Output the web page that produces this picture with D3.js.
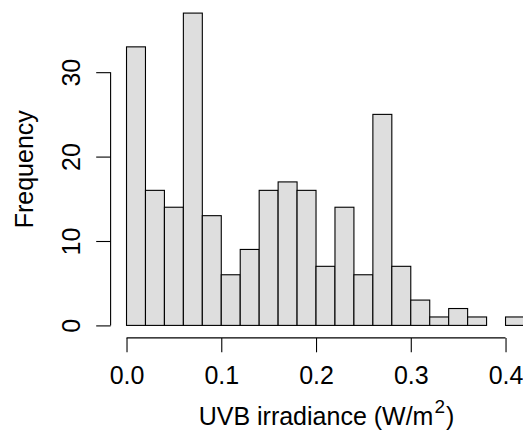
<!DOCTYPE html>
<html><head><meta charset="utf-8">
<script src="https://cdn.jsdelivr.net/npm/d3@7"></script>
<style>body{margin:0;background:#fff}svg{display:block}text{font-family:"Liberation Sans",Arial,sans-serif;fill:#000}</style>
</head><body>
<script>
const breaks = [0,0.02,0.04,0.06,0.08,0.10,0.12,0.14,0.16,0.18,0.20,0.22,0.24,0.26,0.28,0.30,0.32,0.34,0.36,0.38,0.40,0.42];
const counts = [33,16,14,37,13,6,9,16,17,16,7,14,6,25,7,3,1,2,1,0,1];
const xTicks = [0,0.1,0.2,0.3,0.4];
const yTicks = [0,10,20,30];

const W=523,H=430,FS=25;
const svg=d3.select("body").append("svg").attr("width",W).attr("height",H);
const x=d3.scaleLinear().domain([-0.0168,0.4368]).range([110.6,540.4]);
const y=d3.scaleLinear().domain([-1.48,38.48]).range([337.9,0.6]);

const bins=counts.map((c,i)=>({x0:breaks[i],x1:breaks[i+1],c}));
svg.append("g").selectAll("rect").data(bins.filter(d=>d.c>0)).join("rect")
  .attr("x",d=>x(d.x0)).attr("width",d=>x(d.x1)-x(d.x0))
  .attr("y",d=>y(d.c)).attr("height",d=>y(0)-y(d.c))
  .attr("fill","#DEDEDE").attr("stroke","#000").attr("stroke-width",1.1);

// x axis
const gx=svg.append("g").attr("transform",`translate(0,${y.range()[0]})`)
  .call(d3.axisBottom(x).tickValues(xTicks).tickFormat(d3.format(".1f")).tickSize(14.4).tickSizeOuter(0));
gx.select(".domain").remove();
gx.append("line").attr("x1",x(0)).attr("x2",x(0.4)).attr("stroke","#000").attr("stroke-width",1.1);
gx.selectAll(".tick line").attr("stroke","#000").attr("stroke-width",1.1);
gx.selectAll(".tick text").attr("font-size",FS).attr("font-family","Liberation Sans, Arial, sans-serif").attr("fill","#000").attr("dy",null).attr("y",46.3);

// y axis
const gy=svg.append("g").attr("transform",`translate(${x.range()[0]},0)`)
  .call(d3.axisLeft(y).tickValues(yTicks).tickSize(14.4).tickSizeOuter(0));
gy.select(".domain").remove();
gy.append("line").attr("y1",y(0)).attr("y2",y(30)).attr("stroke","#000").attr("stroke-width",1.1);
gy.selectAll(".tick line").attr("stroke","#000").attr("stroke-width",1.1);
gy.selectAll(".tick text").attr("font-size",FS).attr("font-family","Liberation Sans, Arial, sans-serif").attr("fill","#000")
  .attr("x",null).attr("dy",null).attr("text-anchor","middle")
  .attr("transform","translate(-30.5,0) rotate(-90)");

// labels
const xl=svg.append("text").attr("x",(x.range()[0]+x.range()[1])/2+1).attr("y",425).attr("text-anchor","middle").attr("font-size",FS);
xl.append("tspan").text("UVB irradiance (W/m");
xl.append("tspan").attr("font-size",19).attr("dx",1).attr("dy",-12).text("2");
xl.append("tspan").attr("dx",1).attr("dy",12).text(")");

svg.append("text").attr("transform",`translate(33,${(y.range()[0]+y.range()[1])/2}) rotate(-90)`)
  .attr("text-anchor","middle").attr("font-size",FS).text("Frequency");
</script>
</body></html>
